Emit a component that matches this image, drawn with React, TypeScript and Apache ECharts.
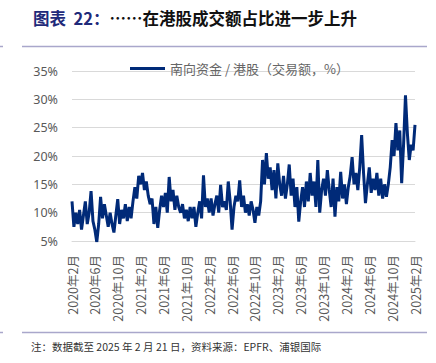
import React, { useEffect, useRef } from "react";
import * as echarts from "echarts";

const startYear = 2020;
const startMonth = 2;
const monthCount = 61; // Feb 2020 .. Feb 2025
const pointsPerMonth = 3;
const yTicks = [5, 10, 15, 20, 25, 30, 35];
const seriesName = "南向资金 / 港股（交易额，%）";
const titleLead = "图表  22：";
const titleRest = "……在港股成交额占比进一步上升";
const footnote = "注：数据截至 2025 年 2 月 21 日，资料来源：EPFR、浦银国际";

// three readings per month (early / mid / late), Feb 2020 .. Feb 2025
const southboundShare = [
  12, 7.5, 10,
  8, 10.5, 7,
  9.5, 12, 8,
  10, 13.8, 8.5,
  7, 4.8, 8,
  12.8, 9, 11.5,
  9.5, 7.5, 10,
  8, 6.5, 9.5,
  12.4, 8, 10.5,
  9, 11.5, 8.5,
  11, 9, 12,
  14.5, 12.5, 16.5,
  15, 17, 14,
  15.5, 13, 11.5,
  12.5, 8, 11,
  7.3, 10.5, 13,
  11, 13.5, 10,
  16.3, 12, 14,
  10.5, 13, 11,
  10, 11.5, 9,
  10.5, 8.5, 11,
  9, 11, 7.5,
  10, 12, 9,
  16.6, 11, 12.5,
  10, 12.5, 9.5,
  11.5, 13, 10,
  14.9, 11, 12,
  10.5, 15.5, 12,
  7, 11, 13,
  12, 15.7, 11,
  13, 10, 11.5,
  9.5, 12, 10.5,
  8.2, 11, 9.5,
  12, 19.3, 15,
  20.5, 16, 18,
  14, 17.5, 12.5,
  18.7, 15, 13,
  16.5, 12.5, 15,
  18.5, 13, 16,
  11, 14.5, 8.4,
  12, 14.5, 11,
  15.5, 12, 17,
  13, 15.5, 11,
  19.3, 10, 14,
  16, 13, 17.5,
  14, 11, 16,
  9.3, 14.5, 12,
  17.2, 12.5, 15,
  11.5, 14.5, 16.5,
  19.8, 15, 17,
  14, 18, 23.7,
  17, 11.7, 15,
  18, 13.5, 16,
  14, 17, 13,
  16, 12.5, 15,
  12.8, 15, 18,
  22.8, 20, 25.8,
  21, 24.5, 15.2,
  22, 30.7, 24,
  19.3, 22, 21,
  25.5,
];

const monthLabels: string[] = [];
for (let i = 0; i < monthCount; i++) {
  const t = startMonth - 1 + i;
  monthLabels.push(`${startYear + Math.floor(t / 12)}年${(t % 12) + 1}月`);
}
const categories: string[] = [];
monthLabels.forEach((m, i) => {
  const n = i === monthCount - 1 ? 1 : pointsPerMonth;
  for (let k = 0; k < n; k++) categories.push(k === 0 ? m : `${m}-${k}`);
});

export default function App() {
  const ref = useRef<HTMLDivElement>(null);
  useEffect(() => {
    if (!ref.current) return;
    const chart = echarts.init(ref.current, null, { renderer: "svg" });
    const lineColor = "#A9A7CB";
    chart.setOption({
      animation: false,
      backgroundColor: "#ffffff",
      grid: { left: 72, right: 21, top: 71, bottom: 122, containLabel: false },
      legend: {
        left: 125,
        top: 57,
        itemWidth: 35,
        itemHeight: 3,
        itemGap: 2,
        icon: "rect",
        textStyle: { color: "#666666", fontSize: 13, fontFamily: "Noto Sans CJK SC" },
        data: [seriesName],
      },
      xAxis: {
        type: "category",
        data: categories,
        boundaryGap: false,
        axisLine: { show: true, lineStyle: { color: "#D9D9D9", width: 1 } },
        axisTick: { show: false },
        axisLabel: {
          rotate: 90,
          margin: 14,
          color: "#595959",
          fontSize: 12.5,
          fontFamily: "Noto Sans CJK SC",
          interval: (idx: number) => idx % 12 === 0,
          formatter: (v: string) => v.split("-")[0],
        },
        splitLine: { show: false },
      },
      yAxis: {
        type: "value",
        min: 5,
        max: 35,
        interval: 5,
        axisLine: { show: false },
        axisTick: { show: false },
        axisLabel: {
          color: "#595959",
          fontSize: 12.5,
          fontFamily: "Noto Sans",
          margin: 14,
          formatter: (v: number) => (yTicks.includes(v) ? `${v}%` : ""),
        },
        splitLine: { lineStyle: { color: "#D9D9D9", width: 1 } },
      },
      series: [
        {
          name: seriesName,
          type: "line",
          data: southboundShare,
          showSymbol: false,
          symbol: "none",
          lineStyle: { color: "#002A78", width: 3 },
          itemStyle: { color: "#002A78" },
        },
      ],
      graphic: [
        {
          type: "text",
          left: 33,
          top: 10,
          style: {
            text: `{a|${titleLead}}{b|${titleRest}}`,
            rich: {
              a: { fill: "#1F2A7A", fontSize: 16.5, fontWeight: "bold", fontFamily: "Noto Sans CJK SC" },
              b: { fill: "#111111", fontSize: 16.5, fontWeight: "bold", fontFamily: "Noto Sans CJK SC" },
            },
          },
        },
        { type: "line", shape: { x1: 22, y1: 46.5, x2: 427, y2: 46.5 }, style: { stroke: lineColor, lineWidth: 1.5 } },
        { type: "line", shape: { x1: 0, y1: 46.5, x2: 3, y2: 46.5 }, style: { stroke: lineColor, lineWidth: 1.5 } },
        { type: "line", shape: { x1: 22, y1: 332.5, x2: 427, y2: 332.5 }, style: { stroke: lineColor, lineWidth: 1.5 } },
        { type: "line", shape: { x1: 0, y1: 332.5, x2: 3, y2: 332.5 }, style: { stroke: lineColor, lineWidth: 1.5 } },
        {
          type: "text",
          left: 31,
          top: 341,
          style: { text: footnote, fill: "#333333", fontSize: 10.5, fontFamily: "Noto Sans CJK SC" },
        },
      ],
    });
    return () => chart.dispose();
  }, []);
  return (
    <div
      ref={ref}
      style={{ position: "fixed", left: 0, top: 0, width: 436, height: 363 }}
    />
  );
}
